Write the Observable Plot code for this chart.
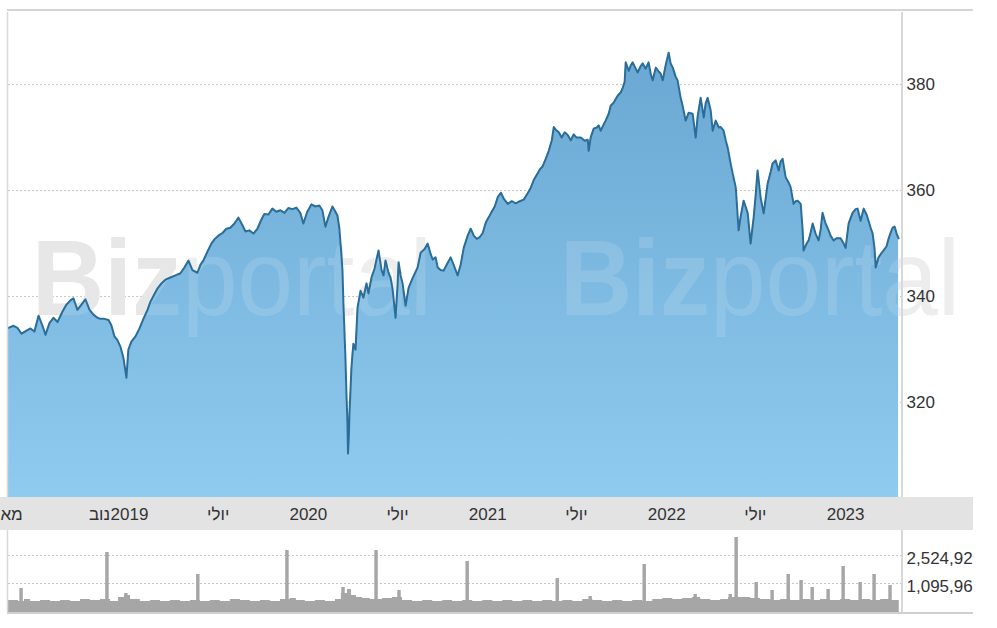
<!DOCTYPE html>
<html><head><meta charset="utf-8">
<script src="https://cdn.jsdelivr.net/npm/d3@7"></script>
<script src="https://cdn.jsdelivr.net/npm/@observablehq/plot@0.6"></script>
<style>
html,body{margin:0;padding:0;background:#fff;}
#wrap{position:relative;width:973px;height:628px;overflow:hidden;font-family:"Liberation Sans",Arial,sans-serif;}
#topline{position:absolute;left:7px;top:9px;width:966px;height:2px;background:#d5d5d5;}
#price{position:absolute;left:0;top:10px;}
#vol{position:absolute;left:0;top:530px;}
</style></head><body>
<div id="wrap"><div id="topline"></div><div id="price"></div><div id="vol"></div></div>
<script>
// ---- data (dates as decimal years) ----
const priceT = [2018.324,2018.352,2018.374,2018.397,2018.425,2018.447,2018.469,2018.492,2018.514,2018.531,2018.553,2018.575,2018.598,2018.626,2018.648,2018.670,2018.687,2018.709,2018.732,2018.754,2018.777,2018.799,2018.821,2018.838,2018.860,2018.883,2018.899,2018.916,2018.933,2018.950,2018.966,2018.983,2018.994,2019.011,2019.034,2019.056,2019.078,2019.101,2019.117,2019.140,2019.156,2019.179,2019.201,2019.229,2019.257,2019.285,2019.307,2019.330,2019.352,2019.380,2019.397,2019.413,2019.436,2019.458,2019.475,2019.497,2019.520,2019.542,2019.564,2019.587,2019.609,2019.631,2019.648,2019.670,2019.693,2019.715,2019.737,2019.754,2019.777,2019.799,2019.821,2019.844,2019.866,2019.888,2019.911,2019.933,2019.955,2019.972,2019.994,2020.017,2020.039,2020.061,2020.078,2020.095,2020.112,2020.134,2020.151,2020.162,2020.173,2020.184,2020.190,2020.196,2020.201,2020.207,2020.212,2020.218,2020.221,2020.226,2020.229,2020.235,2020.240,2020.246,2020.251,2020.263,2020.274,2020.291,2020.307,2020.324,2020.335,2020.352,2020.369,2020.391,2020.408,2020.419,2020.430,2020.447,2020.458,2020.469,2020.480,2020.486,2020.497,2020.503,2020.514,2020.525,2020.542,2020.559,2020.581,2020.609,2020.626,2020.648,2020.665,2020.682,2020.693,2020.709,2020.721,2020.737,2020.754,2020.771,2020.793,2020.810,2020.832,2020.849,2020.866,2020.888,2020.905,2020.922,2020.939,2020.955,2020.972,2020.989,2021.006,2021.022,2021.039,2021.056,2021.073,2021.089,2021.112,2021.134,2021.156,2021.179,2021.201,2021.223,2021.240,2021.257,2021.274,2021.291,2021.307,2021.324,2021.341,2021.358,2021.369,2021.380,2021.397,2021.413,2021.430,2021.447,2021.464,2021.480,2021.497,2021.520,2021.542,2021.559,2021.564,2021.575,2021.592,2021.609,2021.620,2021.631,2021.648,2021.659,2021.676,2021.687,2021.704,2021.726,2021.743,2021.754,2021.765,2021.771,2021.788,2021.799,2021.810,2021.827,2021.838,2021.855,2021.866,2021.883,2021.899,2021.911,2021.922,2021.939,2021.955,2021.966,2021.978,2021.994,2022.011,2022.022,2022.034,2022.050,2022.061,2022.078,2022.089,2022.106,2022.123,2022.145,2022.162,2022.173,2022.190,2022.207,2022.218,2022.229,2022.246,2022.257,2022.274,2022.291,2022.302,2022.318,2022.330,2022.341,2022.358,2022.369,2022.386,2022.402,2022.413,2022.430,2022.441,2022.453,2022.469,2022.486,2022.497,2022.508,2022.525,2022.542,2022.553,2022.564,2022.581,2022.592,2022.609,2022.626,2022.637,2022.648,2022.665,2022.682,2022.693,2022.709,2022.721,2022.732,2022.749,2022.760,2022.765,2022.782,2022.793,2022.804,2022.816,2022.832,2022.849,2022.860,2022.871,2022.888,2022.905,2022.916,2022.933,2022.950,2022.972,2022.989,2023.000,2023.017,2023.039,2023.056,2023.067,2023.084,2023.101,2023.117,2023.128,2023.140,2023.151,2023.162,2023.168,2023.184,2023.196,2023.212,2023.229,2023.240,2023.251,2023.263,2023.274,2023.285,2023.296];
const priceV = [334.1,334.5,334.1,333.0,333.6,334.0,333.4,336.4,334.5,332.8,335.0,336.0,335.2,337.2,338.5,339.3,339.7,337.5,338.5,339.5,337.5,336.6,336.0,335.8,335.8,335.6,334.6,332.5,331.8,330.5,328.5,324.7,330.0,331.5,332.5,334.0,335.8,337.5,339.0,340.5,341.5,342.5,343.2,343.6,344.0,344.4,345.5,346.8,345.0,344.5,346.0,346.8,348.5,350.0,350.8,351.5,352.0,352.8,353.0,353.8,354.9,353.5,352.3,352.5,351.9,352.8,354.5,355.6,355.5,356.6,356.0,356.3,355.8,356.7,356.5,356.8,355.8,353.8,356.0,357.4,357.0,357.2,356.3,353.2,355.0,357.0,356.0,355.3,352.8,348.0,345.0,338.0,333.6,328.0,322.0,316.0,310.4,314.0,318.0,322.5,326.5,329.2,331.1,330.0,337.9,341.1,339.8,342.5,340.6,343.6,345.3,348.7,345.0,344.0,346.8,344.5,343.6,341.5,338.0,336.0,342.0,346.5,344.0,342.5,338.3,341.7,343.5,345.5,348.3,349.0,350.0,348.0,347.0,347.4,345.5,345.0,344.9,346.0,347.4,346.0,344.0,346.0,349.2,351.5,352.8,351.5,350.9,351.2,352.0,354.0,355.0,356.0,357.0,358.8,359.6,358.5,357.5,358.0,357.6,358.0,358.3,359.5,360.5,362.0,363.0,364.0,364.6,366.0,367.5,369.5,372.0,371.5,371.0,370.0,371.0,370.5,369.5,370.6,370.0,370.0,369.4,369.6,367.5,370.0,371.7,371.9,372.3,371.3,372.5,373.2,374.5,376.0,376.6,377.9,378.5,379.4,380.5,384.2,382.6,383.6,384.2,383.0,382.3,383.5,384.0,383.0,384.2,382.0,380.8,383.2,382.5,382.1,380.8,383.6,386.0,384.0,383.2,381.5,380.8,377.5,376.0,373.2,374.7,374.5,370.0,374.0,377.5,373.8,376.5,377.5,375.1,371.3,373.2,371.9,372.0,371.3,369.5,368.1,365.0,363.2,360.6,352.5,355.0,358.1,357.0,355.7,350.0,354.9,359.0,363.8,358.7,355.7,358.5,361.3,363.5,365.1,365.7,363.8,365.5,366.0,362.5,361.5,360.6,357.5,358.0,358.1,357.5,352.5,348.7,350.0,350.6,352.0,353.8,351.9,350.6,352.5,355.8,353.8,352.5,351.5,350.6,351.0,351.0,350.0,349.2,353.8,355.8,356.5,356.6,354.3,356.6,355.5,354.3,353.0,351.9,349.0,345.5,347.4,348.0,348.7,349.5,350.9,352.0,353.0,353.2,351.9,351.0];

const volBaseT = [2018.324,2018.380,2018.413,2018.447,2018.503,2018.559,2018.615,2018.670,2018.726,2018.782,2018.838,2018.894,2018.939,2018.972,2019.006,2019.061,2019.117,2019.173,2019.229,2019.285,2019.341,2019.397,2019.452,2019.508,2019.564,2019.620,2019.676,2019.732,2019.788,2019.844,2019.899,2019.933,2019.983,2020.039,2020.095,2020.151,2020.184,2020.218,2020.240,2020.268,2020.302,2020.346,2020.413,2020.469,2020.525,2020.581,2020.637,2020.693,2020.749,2020.804,2020.860,2020.916,2020.972,2021.028,2021.084,2021.140,2021.196,2021.251,2021.307,2021.363,2021.419,2021.475,2021.531,2021.587,2021.642,2021.698,2021.754,2021.810,2021.866,2021.922,2021.978,2022.034,2022.089,2022.145,2022.190,2022.246,2022.302,2022.346,2022.413,2022.469,2022.525,2022.581,2022.637,2022.693,2022.749,2022.804,2022.860,2022.916,2022.972,2023.028,2023.084,2023.140,2023.196,2023.251,2023.300];
const volBaseK = [228,177,279,177,228,177,228,177,279,228,279,177,381,484,279,177,228,177,228,177,228,177,228,177,279,228,177,228,177,279,330,228,177,228,177,279,586,790,484,381,330,279,330,381,228,177,228,177,228,177,228,177,228,177,228,177,228,177,228,177,228,177,279,228,177,228,177,228,177,279,330,279,330,381,279,228,279,381,381,330,279,228,279,228,279,228,279,228,279,228,279,228,279,228,228];
const spikeT = [2018.397,2018.877,2018.983,2019.385,2019.883,2020.196,2020.380,2020.508,2020.888,2021.391,2021.575,2021.877,2022.162,2022.358,2022.391,2022.503,2022.592,2022.682,2022.754,2022.816,2022.905,2022.989,2023.084,2023.162,2023.251];
const spikeK = [841,2678,586,1555,2780,892,2780,739,2219,1351,433,2066,535,535,3443,1147,739,1555,1249,892,790,1963,1147,1555,994];

const xTickDates = ["2018-05-01","2018-11-01","2019-01-01","2019-07-01","2020-01-01","2020-07-01","2021-01-01","2021-07-01","2022-01-01","2022-07-01","2023-01-01"];
const xTickLabels = ["מאי","נוב","2019","יולי","2020","יולי","2021","יולי","2022","יולי","2023"];
const priceTicks = [320, 340, 360, 380];
const volTicks = [1095960, 2524920];

const timeSpan = [2018.324, 2023.318];
const priceSpan = [302.1, 393.6];
const volSpan = [-384000, 3750000];

// ---- helpers ----
function decYear(t) {
  const y = Math.floor(t);
  const a = Date.UTC(y, 0, 1), b = Date.UTC(y + 1, 0, 1);
  return new Date(a + (t - y) * (b - a));
}
const priceData = priceT.map((t, i) => ({date: decYear(t), value: priceV[i]}));
const volBase = volBaseT.map((t, i) => ({date: decYear(t), value: volBaseK[i] * 1000}));
const spikes = spikeT.map((t, i) => ({start: decYear(t - 1/104), end: decYear(t + 1/104), value: spikeK[i] * 1000}));
const labelMap = new Map(xTickDates.map((d, i) => [+new Date(d), xTickLabels[i]]));
const xDomain = timeSpan.map(decYear);

const FONT = "'Liberation Sans', Arial, sans-serif";
const W = 973;
const style = {background: "transparent", fontFamily: FONT, fontSize: "17px", color: "#333", overflow: "visible"};

const price = Plot.plot({
  width: W, height: 520, marginTop: 2, marginBottom: 33, marginLeft: 8, marginRight: 71,
  style,
  x: {type: "time", domain: xDomain, label: null},
  y: {domain: priceSpan, label: null},
  marks: [
    Plot.gridY(priceTicks, {stroke: "#c4c4c4", strokeOpacity: 1, strokeDasharray: "2,2"}),
    Plot.areaY(priceData, {x: "date", y1: () => priceSpan[0], y2: "value", fill: "url(#areaGrad)"}),
    Plot.lineY(priceData, {x: "date", y: "value", stroke: "#2a6d99", strokeWidth: 2}),
    Plot.axisY(priceTicks, {anchor: "right", tickSize: 0, tickPadding: 4, fontSize: 17, label: null}),
    Plot.axisX(xTickDates.map(d => new Date(d)), {anchor: "bottom", tickSize: 0, tickPadding: 10, fontSize: 17, label: null, tickFormat: d => labelMap.get(+d)})
  ]
});

const xr = price.scale("x").range;
const ps = d3.select(price);
// gradient
const defs = ps.insert("defs", ":first-child");
const g = defs.append("linearGradient").attr("id", "areaGrad").attr("x1", 0).attr("y1", 0).attr("x2", 0).attr("y2", 1);
g.append("stop").attr("offset", "0%").attr("stop-color", "#6aa7d2");
g.append("stop").attr("offset", "100%").attr("stop-color", "#8fcbef");
// axis band
ps.insert("rect", "defs + *").attr("x", 0).attr("y", 487).attr("width", W).attr("height", 33).attr("fill", "#e3e3e3");
// borders
ps.append("line").attr("x1", 7.5).attr("x2", 7.5).attr("y1", 2).attr("y2", 487).attr("stroke", "#d8d8d8").attr("stroke-width", 1.5);
ps.append("line").attr("x1", xr[1]).attr("x2", xr[1]).attr("y1", 2).attr("y2", 487).attr("stroke", "#d8d8d8").attr("stroke-width", 2);
// watermark: grey copy behind the area, faint white copy over it
function addWatermark(beforeNode, fillBold, fillLight, opacity) {
  const wm = document.createElementNS("http://www.w3.org/2000/svg", "g");
  price.insertBefore(wm, beforeNode);
  const s = d3.select(wm).attr("opacity", opacity).attr("font-family", FONT)
    .attr("font-size", 108).attr("text-anchor", "start");
  [32, 560].forEach(x0 => {
    const t = s.append("text").attr("x", x0).attr("y", 305)
      .attr("textLength", 400).attr("lengthAdjust", "spacingAndGlyphs");
    t.append("tspan").attr("font-weight", "bold").attr("fill", fillBold).text("Biz");
    t.append("tspan").attr("font-weight", "normal").attr("fill", fillLight).text("portal");
  });
}
addWatermark(price.querySelector('[aria-label="area"]'), "#e4e4e4", "#ebebeb", 1);
addWatermark(price.querySelector('[aria-label="line"]'), "#ffffff", "#ffffff", 0.13);
document.getElementById("price").appendChild(price);

const vol = Plot.plot({
  width: W, height: 84, marginTop: 1, marginBottom: 2, marginLeft: 8, marginRight: 71,
  style,
  x: {type: "time", domain: xDomain, axis: null},
  y: {domain: volSpan, label: null},
  marks: [
    Plot.gridY(volTicks, {stroke: "#c4c4c4", strokeOpacity: 1, strokeDasharray: "2,2"}),
    Plot.areaY(volBase, {x: "date", y1: () => volSpan[0], y2: "value", curve: "step-after", fill: "#a6a6a6"}),
    Plot.rectY(spikes, {x1: "start", x2: "end", y1: () => volSpan[0], y2: "value", fill: "#a6a6a6"}),
    Plot.axisY(volTicks, {anchor: "right", tickSize: 0, tickPadding: 4, fontSize: 17, dy: 3, label: null, tickFormat: d3.format(",")})
  ]
});
const vs = d3.select(vol);
const vxr = vol.scale("x").range;
vs.append("line").attr("x1", 7.5).attr("x2", 7.5).attr("y1", 0).attr("y2", 82).attr("stroke", "#d8d8d8").attr("stroke-width", 1.5);
vs.append("line").attr("x1", vxr[1]).attr("x2", vxr[1]).attr("y1", 0).attr("y2", 82).attr("stroke", "#d8d8d8").attr("stroke-width", 2);
vs.append("line").attr("x1", 7).attr("x2", W).attr("y1", 83).attr("y2", 83).attr("stroke", "#cfcfcf").attr("stroke-width", 2);
document.getElementById("vol").appendChild(vol);
</script>
</body></html>
